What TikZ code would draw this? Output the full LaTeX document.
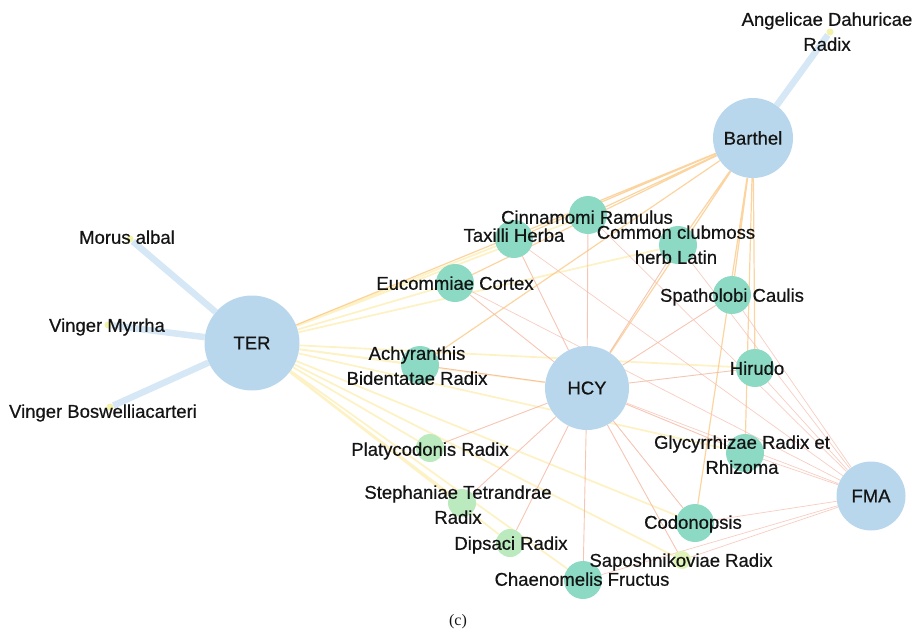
\documentclass[tikz,border=0pt]{standalone}
\usepackage{fontspec}
\setmainfont{Liberation Sans}[FakeBold=0.6]
\newfontfamily\capfont{Liberation Serif}
\usetikzlibrary{positioning, backgrounds}

\definecolor{hubblue}{RGB}{185,215,236}
\definecolor{herbteal}{RGB}{140,218,196}
\definecolor{herbgreen}{RGB}{186,234,190}
\definecolor{herblime}{RGB}{224,244,186}
\definecolor{leafyellow}{RGB}{244,242,168}
\definecolor{leafblue}{RGB}{214,231,246}
\definecolor{teryellow}{RGB}{252,234,160}
\definecolor{barorange}{RGB}{250,198,128}
\definecolor{hcysalmon}{RGB}{244,182,160}
\definecolor{fmasalmon}{RGB}{246,192,178}
\definecolor{labelgray}{RGB}{20,20,20}

\tikzset{
  hub/.style={circle, fill=hubblue, minimum size=#1, inner sep=0pt, text=labelgray, font=\fontsize{18.5}{25}\selectfont},
  herb/.style={circle, fill=herbteal, minimum size=38pt, inner sep=0pt},
  herbsmall/.style={circle, fill=herbgreen, minimum size=28pt, inner sep=0pt},
  leafdot/.style={circle, fill=leafyellow, minimum size=7pt, inner sep=0pt},
  herbtext/.style={text=labelgray, align=center, inner sep=0pt, text height=13.5pt, text depth=4pt, font=\fontsize{18.5}{25}\selectfont},
  leafedge/.style={draw=leafblue, line width=6.5pt},
  teredge/.style={draw=teryellow, line width=1.8pt, opacity=0.6},
  baredge/.style={draw=barorange, line width=1.2pt, opacity=0.75},
  hcyedge/.style={draw=hcysalmon, line width=0.9pt, opacity=0.8},
  fmaedge/.style={draw=fmasalmon, line width=0.7pt, opacity=0.8}
}

\begin{document}
\begin{tikzpicture}[x=1pt, y=-1pt]
  \useasboundingbox (0,0) rectangle (917,635);

  % Hubs
  \node[hub=95pt] (ter) at (252,343) {TER};
  \node[hub=84pt] (hcy) at (587,388) {HCY};
  \node[hub=80pt] (barthel) at (753,138) {Barthel};
  \node[hub=69pt] (fma) at (871,496) {FMA};

  % Leaves of single hubs
  \node[leafdot] (morus) at (130,239) {};
  \node[leafdot] (myrrha) at (108,325) {};
  \node[leafdot] (boswellia) at (110,407) {};
  \node[leafdot] (angelicae) at (830,32) {};

  % Shared herbs
  \node[herb] (cinnamomi) at (588,215) {};
  \node[herb] (taxilli) at (514,239) {};
  \node[herb] (clubmoss) at (678,245) {};
  \node[herb] (eucommiae) at (455,283) {};
  \node[herb] (spatholobi) at (732,295) {};
  \node[herb] (achyranthis) at (420,365) {};
  \node[herb] (hirudo) at (755,368) {};
  \node[herb] (glycyrrhizae) at (745,453) {};
  \node[herb] (codonopsis) at (695,523) {};
  \node[herb] (chaenomelis) at (583,580) {};
  \node[herbsmall] (platycodonis) at (430,448) {};
  \node[herbsmall] (stephaniae) at (462,503) {};
  \node[herbsmall] (dipsaci) at (510,543) {};
  \node[circle, fill=herblime, minimum size=18pt, inner sep=0pt] (saposhnikoviae) at (682,560) {};

  % Labels
  \node[herbtext] (morus-t) at (127,239) {Morus albal};
  \node[herbtext] (myrrha-t) at (107,327) {Vinger Myrrha};
  \node[herbtext] (boswellia-t) at (103,413) {Vinger Boswelliacarteri};
  \node[herbtext] (angelicae-t) at (827,46) {Angelicae Dahuricae\\Radix};
  \node[herbtext] (cinnamomi-t) at (587,219) {Cinnamomi Ramulus};
  \node[herbtext] (taxilli-t) at (514,237) {Taxilli Herba};
  \node[herbtext] (clubmoss-t) at (676,259) {Common clubmoss\\herb Latin};
  \node[herbtext] (eucommiae-t) at (455,285) {Eucommiae Cortex};
  \node[herbtext] (spatholobi-t) at (732,297) {Spatholobi Caulis};
  \node[herbtext] (achyranthis-t) at (417,380) {Achyranthis\\Bidentatae Radix};
  \node[herbtext] (hirudo-t) at (757,370) {Hirudo};
  \node[herbtext] (glycyrrhizae-t) at (742,469) {Glycyrrhizae Radix et\\Rhizoma};
  \node[herbtext] (platycodonis-t) at (430,451) {Platycodonis Radix};
  \node[herbtext] (stephaniae-t) at (458,519) {Stephaniae Tetrandrae\\Radix};
  \node[herbtext] (dipsaci-t) at (511,545) {Dipsaci Radix};
  \node[herbtext] (codonopsis-t) at (693,524) {Codonopsis};
  \node[herbtext] (saposhnikoviae-t) at (681,562) {Saposhnikoviae Radix};
  \node[herbtext] (chaenomelis-t) at (582,581) {Chaenomelis Fructus};

  % Caption
  \node[font=\capfont\fontsize{16}{18}\selectfont, text=labelgray] (caption) at (458,622) {(c)};

  \begin{pgfonlayer}{background}
    % Edges of TER
    \draw[leafedge] (ter) -- (morus) (ter) -- (myrrha) (ter) -- (boswellia);
    \draw[teredge] (ter) -- (taxilli) (ter) -- (cinnamomi) (ter) -- (eucommiae)
      (ter) -- (clubmoss) (ter) -- (achyranthis) (ter) -- (hcy)
      (ter) -- (platycodonis) (ter) -- (stephaniae) (ter) -- (dipsaci)
      (ter) -- (chaenomelis) (ter) -- (saposhnikoviae) (ter) -- (codonopsis)
      (ter) -- (glycyrrhizae) (ter) -- (hirudo);
    % Edges of Barthel
    \draw[leafedge] (barthel) -- (angelicae);
    \draw[baredge] (barthel) -- (cinnamomi) (barthel) -- (taxilli) (barthel) -- (eucommiae)
      (barthel) -- (clubmoss) (barthel) -- (spatholobi) (barthel) -- (hirudo)
      (barthel) -- (glycyrrhizae) (barthel) -- (codonopsis) (barthel) -- (hcy)
      (barthel) -- (achyranthis) (barthel) -- (ter);
    % Edges of HCY
    \draw[hcyedge] (hcy) -- (taxilli) (hcy) -- (eucommiae) (hcy) -- (cinnamomi)
      (hcy) -- (clubmoss) (hcy) -- (spatholobi) (hcy) -- (hirudo)
      (hcy) -- (glycyrrhizae) (hcy) -- (codonopsis) (hcy) -- (chaenomelis)
      (hcy) -- (achyranthis) (hcy) -- (platycodonis) (hcy) -- (dipsaci)
      (hcy) -- (stephaniae) (hcy) -- (saposhnikoviae);
    % Edges of FMA
    \draw[fmaedge] (fma) -- (hirudo) (fma) -- (glycyrrhizae) (fma) -- (codonopsis)
      (fma) -- (saposhnikoviae) (fma) -- (spatholobi) (fma) -- (clubmoss)
      (fma) -- (hcy) (fma) -- (chaenomelis) (fma) -- (eucommiae)
      (fma) -- (taxilli) (fma) -- (cinnamomi);
  \end{pgfonlayer}
\end{tikzpicture}
\end{document}
